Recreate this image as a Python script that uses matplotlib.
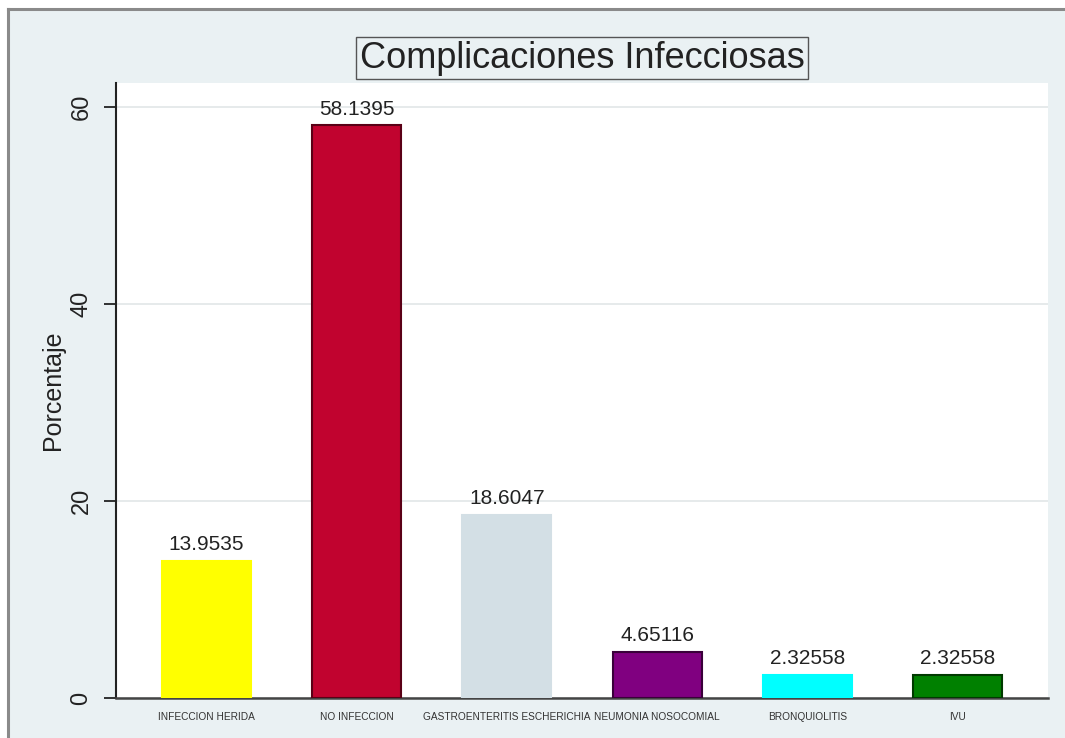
import matplotlib
matplotlib.use("Agg")
import matplotlib.pyplot as plt
from matplotlib.patches import Rectangle
from matplotlib.lines import Line2D

categories = ["INFECCION HERIDA", "NO INFECCION", "GASTROENTERITIS ESCHERICHIA",
              "NEUMONIA NOSOCOMIAL", "BRONQUIOLITIS", "IVU"]
values = [13.9535, 58.1395, 18.6047, 4.65116, 2.32558, 2.32558]
labels = ["13.9535", "58.1395", "18.6047", "4.65116", "2.32558", "2.32558"]
colors = ["#ffff00", "#c1032f", "#d3dfe5", "#800080", "#00ffff", "#008000"]
edges = ["#ffff00", "#5a0016", "#d3dfe5", "#3a003a", "#00ffff", "#003a00"]
yticks = [0, 20, 40, 60]

plt.rcParams['font.family'] = ['Liberation Sans', 'DejaVu Sans']

W, H = 1065, 738
fig = plt.figure(figsize=(W / 100, H / 100), dpi=100, facecolor="white")

# background panel with left/top border
bg = Rectangle((8 / W, 0), 1 - 8 / W, 1 - 9 / H, transform=fig.transFigure,
               facecolor="#eaf1f3", edgecolor="none", zorder=-10)
fig.patches.append(bg)
fig.lines.append(Line2D([8 / W, 8 / W], [0, 1 - 9 / H], transform=fig.transFigure,
                        color="#8a8a8a", lw=2.2))
fig.lines.append(Line2D([8 / W, 1], [1 - 9 / H, 1 - 9 / H], transform=fig.transFigure,
                        color="#8a8a8a", lw=2.2))

ax = fig.add_axes([116 / W, (H - 698) / H, (1048 - 116) / W, (698 - 83) / H])
ax.set_facecolor("white")

x = list(range(len(categories)))
bars = ax.bar(x, values, width=0.59, color=colors, edgecolor=edges, linewidth=1.5, zorder=3)

for xi, v, lab in zip(x, values, labels):
    ax.annotate(lab, (xi, v), xytext=(0, 5), textcoords="offset points",
                ha="center", va="bottom", fontsize=15, color="#222222")

ax.set_xlim(-0.6, 5.6)
ax.set_ylim(0, 62.45)
ax.set_yticks(yticks)
ax.set_yticklabels([str(t) for t in yticks], rotation=90, va="center", fontsize=17)
ax.tick_params(axis="y", length=9, width=1.3, pad=8, colors="#222222")
ax.set_xticks(x)
ax.set_xticklabels(categories, fontsize=7.3, color="#333333")
ax.tick_params(axis="x", length=0, pad=10)

ax.grid(axis="y", color="#e2e6e8", lw=1.2, zorder=0)
ax.set_axisbelow(True)

for s in ["top", "right"]:
    ax.spines[s].set_visible(False)
ax.spines["left"].set_color("#222222")
ax.spines["left"].set_linewidth(1.5)
ax.spines["bottom"].set_color("#444444")
ax.spines["bottom"].set_linewidth(1.8)

ax.set_ylabel("Porcentaje", fontsize=18, labelpad=4, color="#222222")

fig.text(582 / W, 1 - 58 / H, "Complicaciones Infecciosas", ha="center", va="center",
         fontsize=26, color="#222222",
         bbox=dict(boxstyle="square,pad=0.1", facecolor="none", edgecolor="#555555", lw=1))

fig.savefig("out.png", dpi=100, facecolor=fig.get_facecolor())
